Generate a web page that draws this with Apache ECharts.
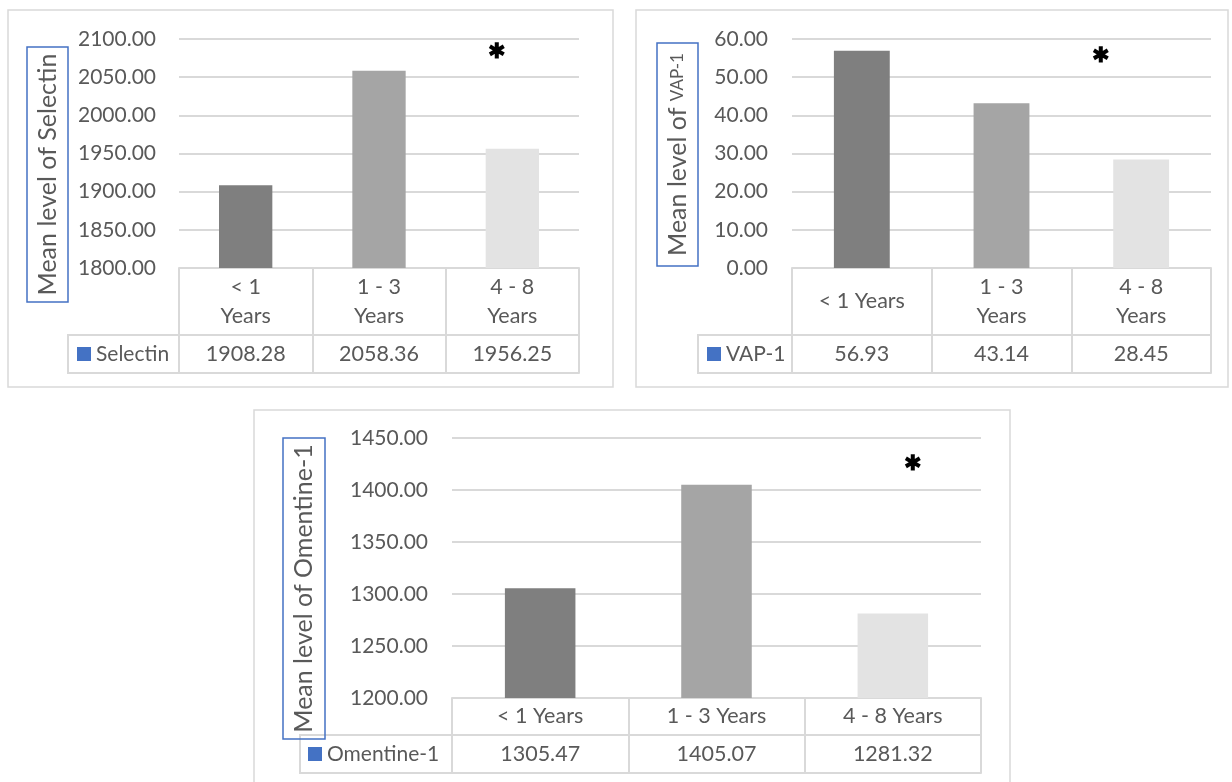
<!DOCTYPE html>
<html>
<head>
<meta charset="utf-8">
<script src="https://cdn.jsdelivr.net/npm/echarts@6/dist/echarts.min.js"></script>
<style>
  html, body { margin: 0; padding: 0; background: #ffffff; }
  #chart { width: 1232px; height: 782px; }
</style>
</head>
<body>
<div id="chart"></div>
<script>
// Duration groups shared by all three charts
const categories = ['< 1 Years', '1 - 3 Years', '4 - 8 Years'];

// Mean levels per group
const selectin = [1908.28, 2058.36, 1956.25];
const vap1 = [56.93, 43.14, 28.45];
const omentine1 = [1305.47, 1405.07, 1281.32];

// Value-axis tick labels
const selectinTicks = [1800, 1850, 1900, 1950, 2000, 2050, 2100];
const vap1Ticks = [0, 10, 20, 30, 40, 50, 60];
const omentine1Ticks = [1200, 1250, 1300, 1350, 1400, 1450];

// Styling
const FONT = 'Lato';
const TEXT = '#595959';
const RULE = '#d9d9d9';
const FRAME = '#d9d9d9';
const ACCENT = '#4472c4';
const barColors = ['#7f7f7f', '#a5a5a5', '#e3e3e3'];

// Layout of each panel: frame, plot area, data-table rows, axis-title box
const panels = [
  {
    name: 'Selectin', values: selectin, ticks: selectinTicks,
    title: '{a|Mean level of Selectin}',
    frame: [8, 10, 605, 377],
    grid: { left: 179, top: 39, width: 400, height: 229 },
    row1: 67, row2: 38, cellLeft: 68, legendInset: 9,
    titleBox: [27, 47, 41, 255], labelMargin: 23,
    wrap: v => v.replace(' Years', '\nYears'),
    star: { value: 2084, dx: -15 }
  },
  {
    name: 'VAP-1', values: vap1, ticks: vap1Ticks,
    title: '{a|Mean level of }{b|VAP-1}',
    frame: [636, 10, 592, 377],
    grid: { left: 792, top: 39, width: 419, height: 229 },
    row1: 67, row2: 38, cellLeft: 698, legendInset: 9,
    titleBox: [657, 43, 41, 223], labelMargin: 24,
    wrap: v => v.charAt(0) === '<' ? v : v.replace(' Years', '\nYears'),
    star: { value: 55.8, dx: -40 }
  },
  {
    name: 'Omentine-1', values: omentine1, ticks: omentine1Ticks,
    title: '{a|Mean level of Omentine-1}',
    frame: [254, 410, 756, 390],
    grid: { left: 452, top: 438, width: 529, height: 260 },
    row1: 37, row2: 38, cellLeft: 300, legendInset: 8,
    titleBox: [283, 438, 42, 301], labelMargin: 24,
    wrap: v => v,
    star: { value: 1426, dx: 20 }
  }
];

const ruleLine = { color: RULE, width: 2 };
const grids = [], xAxes = [], yAxes = [], series = [], legends = [], graphics = [];

panels.forEach((p, i) => {
  const g = p.grid;
  const axisBottom = g.top + g.height;
  grids.push({ left: g.left, top: g.top, width: g.width, height: g.height, outerBoundsMode: 'none' });

  // Category row of the data table
  xAxes.push({
    gridIndex: i, type: 'category', data: categories, position: 'bottom',
    axisLine: { show: true, lineStyle: ruleLine },
    axisTick: { show: true, interval: 0, length: p.row1, lineStyle: ruleLine },
    axisLabel: {
      interval: 0, formatter: p.wrap, color: TEXT, fontFamily: FONT, fontSize: 21.5,
      lineHeight: 29, margin: p.row1 / 2, verticalAlign: 'middle', align: 'center'
    },
    splitLine: { show: false }
  });
  // Value row of the data table
  xAxes.push({
    gridIndex: i, type: 'category', data: categories, position: 'bottom', offset: p.row1,
    axisLine: { show: true, lineStyle: ruleLine },
    axisTick: { show: true, interval: 0, length: p.row2, lineStyle: ruleLine },
    axisLabel: {
      interval: 0, formatter: (v, idx) => p.values[idx].toFixed(2),
      color: TEXT, fontFamily: FONT, fontSize: 21.5, margin: p.row2 / 2, verticalAlign: 'middle'
    },
    splitLine: { show: false }
  });
  // Closing line of the data table
  xAxes.push({
    gridIndex: i, type: 'category', data: categories, position: 'bottom', offset: p.row1 + p.row2,
    axisLine: { show: true, lineStyle: ruleLine },
    axisTick: { show: false }, axisLabel: { show: false }, splitLine: { show: false }
  });

  const t = p.ticks;
  yAxes.push({
    gridIndex: i, type: 'value',
    min: t[0], max: t[t.length - 1], interval: t[1] - t[0],
    axisLine: { show: false }, axisTick: { show: false },
    axisLabel: { formatter: v => v.toFixed(2), color: TEXT, fontFamily: FONT, fontSize: 21, margin: p.labelMargin },
    splitLine: { show: true, lineStyle: ruleLine }
  });

  series.push({
    type: 'bar', name: p.name, xAxisIndex: i * 3, yAxisIndex: i,
    barWidth: '40%',
    itemStyle: { color: ACCENT },
    data: p.values.map((v, k) => ({ value: v, itemStyle: { color: barColors[k] } })),
    markPoint: {
      symbol: 'circle', symbolSize: 0, silent: true,
      label: { show: true, formatter: '\u2731', color: '#000', fontSize: 21, fontWeight: 'bold', offset: [p.star.dx, 0] },
      data: [{ coord: [2, p.star.value] }]
    }
  });

  const rowTop = axisBottom + p.row1;
  legends.push({
    data: [p.name], left: p.cellLeft + p.legendInset, top: rowTop + p.row2 / 2 - 10.5,
    icon: 'rect', itemWidth: 14, itemHeight: 14, padding: 0, selectedMode: false,
    textStyle: { fontFamily: FONT, fontSize: 21, color: TEXT, lineHeight: 21 }
  });

  // Panel frame
  graphics.push({
    type: 'rect', silent: true,
    shape: { x: p.frame[0], y: p.frame[1], width: p.frame[2], height: p.frame[3] },
    style: { fill: 'none', stroke: FRAME, lineWidth: 1.5 }
  });
  // Legend cell of the data table
  graphics.push({
    type: 'rect', silent: true,
    shape: { x: p.cellLeft, y: rowTop, width: g.left - p.cellLeft, height: p.row2 },
    style: { fill: 'none', stroke: RULE, lineWidth: 2 }
  });
  // Boxed value-axis title
  const b = p.titleBox;
  graphics.push({
    type: 'rect', silent: true,
    shape: { x: b[0], y: b[1], width: b[2], height: b[3] },
    style: { fill: 'none', stroke: ACCENT, lineWidth: 1.5 }
  });
  graphics.push({
    type: 'text', silent: true,
    x: b[0] + b[2] / 2, y: b[1] + b[3] / 2, rotation: Math.PI / 2,
    style: {
      text: p.title, x: 0, y: 0, align: 'center', verticalAlign: 'middle', fill: TEXT,
      rich: {
        a: { fontFamily: FONT, fontSize: 25, fill: TEXT },
        b: { fontFamily: FONT, fontSize: 17, fill: TEXT }
      }
    }
  });
});

const chart = echarts.init(document.getElementById('chart'), null, { renderer: 'canvas' });
chart.setOption({
  animation: false,
  backgroundColor: '#ffffff',
  textStyle: { fontFamily: FONT },
  grid: grids,
  xAxis: xAxes,
  yAxis: yAxes,
  legend: legends,
  series: series,
  graphic: graphics
});
</script>
</body>
</html>
